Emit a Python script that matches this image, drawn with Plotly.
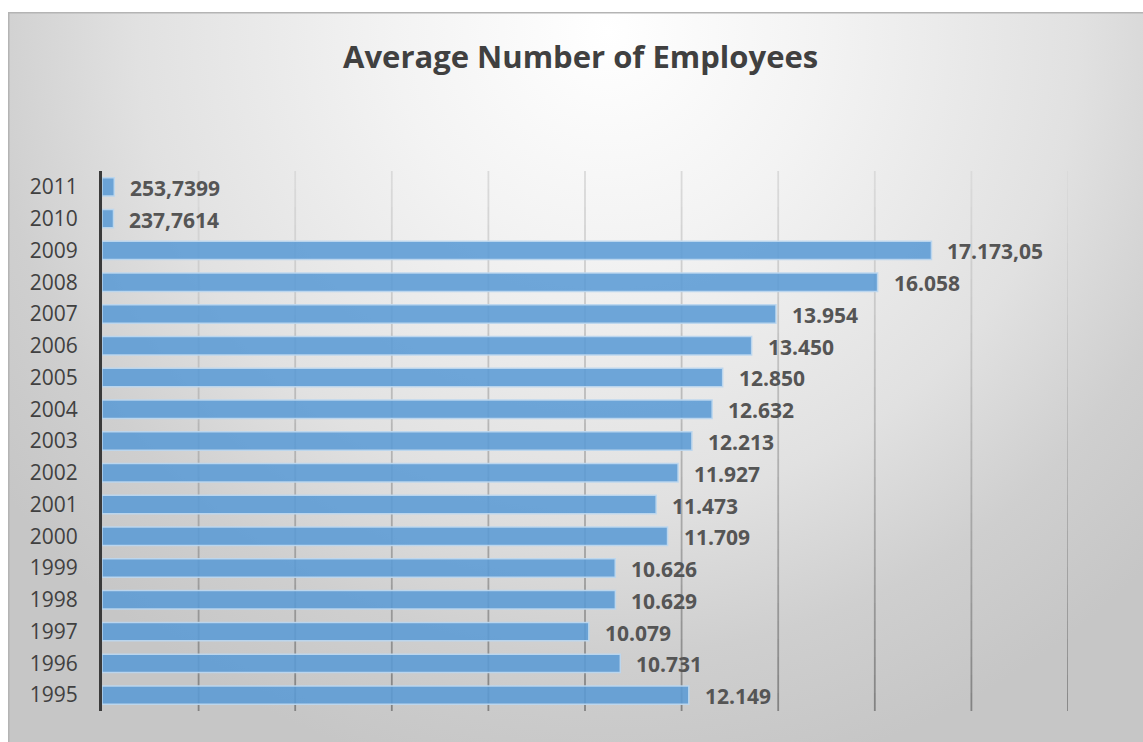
import base64
import plotly.graph_objects as go

# Average number of employees per year
years = ["1995", "1996", "1997", "1998", "1999", "2000", "2001", "2002", "2003",
         "2004", "2005", "2006", "2007", "2008", "2009", "2010", "2011"]
employees = [12149, 10731, 10079, 10629, 10626, 11709, 11473, 11927, 12213,
             12632, 12850, 13450, 13954, 16058, 17173.05, 237.7614, 253.7399]
value_labels = ["12.149", "10.731", "10.079", "10.629", "10.626", "11.709", "11.473",
                "11.927", "12.213", "12.632", "12.850", "13.450", "13.954", "16.058",
                "17.173,05", "237,7614", "253,7399"]
grid_values = [2000, 4000, 6000, 8000, 10000, 12000, 14000, 16000, 18000, 20000]
x_max = 20000

W, H = 1143, 742
M_L, M_R, M_T, M_B = 102, 75, 171, 31
PW, PH = W - M_L - M_R, H - M_T - M_B

# Chart-area backdrop: soft radial gradient with a thin frame on top/left
BX, BY = 8, 12
bw, bh = W - BX, H - BY
svg = f'''<svg xmlns="http://www.w3.org/2000/svg" width="{bw}" height="{bh}" viewBox="0 0 {bw} {bh}" preserveAspectRatio="none">
<defs><radialGradient id="g" gradientUnits="userSpaceOnUse" cx="600" cy="20" r="760">
<stop offset="0" stop-color="#ffffff"/>
<stop offset="0.28" stop-color="#f3f3f3"/>
<stop offset="0.62" stop-color="#e1e1e1"/>
<stop offset="0.82" stop-color="#cfcfcf"/>
<stop offset="1" stop-color="#c6c6c6"/>
</radialGradient></defs>
<rect x="0" y="0" width="{bw}" height="{bh}" fill="url(#g)"/>
<path d="M0.75,{bh} L0.75,0.75 L{bw},0.75" fill="none" stroke="#b4b4b4" stroke-width="1.5"/>
</svg>'''
svg_uri = "data:image/svg+xml;base64," + base64.b64encode(svg.encode()).decode()

fig = go.Figure()
fig.add_trace(go.Bar(
    y=years, x=employees, orientation="h", width=0.58,
    marker=dict(color="rgba(91,155,213,0.88)",
                line=dict(color="rgba(189,215,238,0.95)", width=1.5)),
    hoverinfo="skip",
))

# Value labels just right of each bar (category axis positions are indices)
for idx, (v, lab) in enumerate(zip(employees, value_labels)):
    fig.add_annotation(x=v, y=idx, xref="x", yref="y", text=f"<b>{lab}</b>",
                       showarrow=False, xanchor="left", yanchor="middle", xshift=14,
                       yshift=-1,
                       font=dict(family="Open Sans", size=21, color="#555555"))

# Vertical gridlines that fade from dark at the bottom to light at the top
shapes = []
n_seg = 30
for gx in grid_values:
    for i in range(n_seg):
        y0, y1 = i / n_seg, (i + 1) / n_seg
        t = ((y0 + y1) / 2) ** 0.8
        c = int(128 + (220 - 128) * t)
        shapes.append(dict(type="line", xref="x", yref="paper", x0=gx, x1=gx,
                           y0=y0, y1=y1, layer="below",
                           line=dict(color=f"rgb({c},{c},{c})", width=1.8)))

fig.update_layout(
    width=W, height=H,
    margin=dict(l=M_L, r=M_R, t=M_T, b=M_B, autoexpand=False),
    paper_bgcolor="white", plot_bgcolor="rgba(0,0,0,0)",
    showlegend=False,
    title=dict(text="<b>Average Number of Employees</b>", x=0.508, xanchor="center",
               y=1 - 57 / H, yanchor="middle", xref="container", yref="container",
               font=dict(family="Open Sans", size=31, color="#404040")),
    xaxis=dict(range=[0, x_max], showgrid=False, zeroline=False, showticklabels=False,
               showline=False, fixedrange=True),
    yaxis=dict(type="category", categoryorder="array", categoryarray=years,
               range=[-0.5, len(years) - 0.5], autorange=False,
               tickmode="array", tickvals=years, ticktext=years,
               showgrid=False, zeroline=False, showline=True, linecolor="#3a3a3a",
               linewidth=3, ticks="", ticklabelstandoff=17,
               tickfont=dict(family="Open Sans", size=21, color="#404040")),
    shapes=shapes,
    images=[dict(source=svg_uri, xref="paper", yref="paper",
                 x=(BX - M_L) / PW, y=(H - M_B - BY) / PH,
                 sizex=bw / PW, sizey=bh / PH, sizing="stretch",
                 xanchor="left", yanchor="top", layer="below")],
)

fig.write_html("out.html")
